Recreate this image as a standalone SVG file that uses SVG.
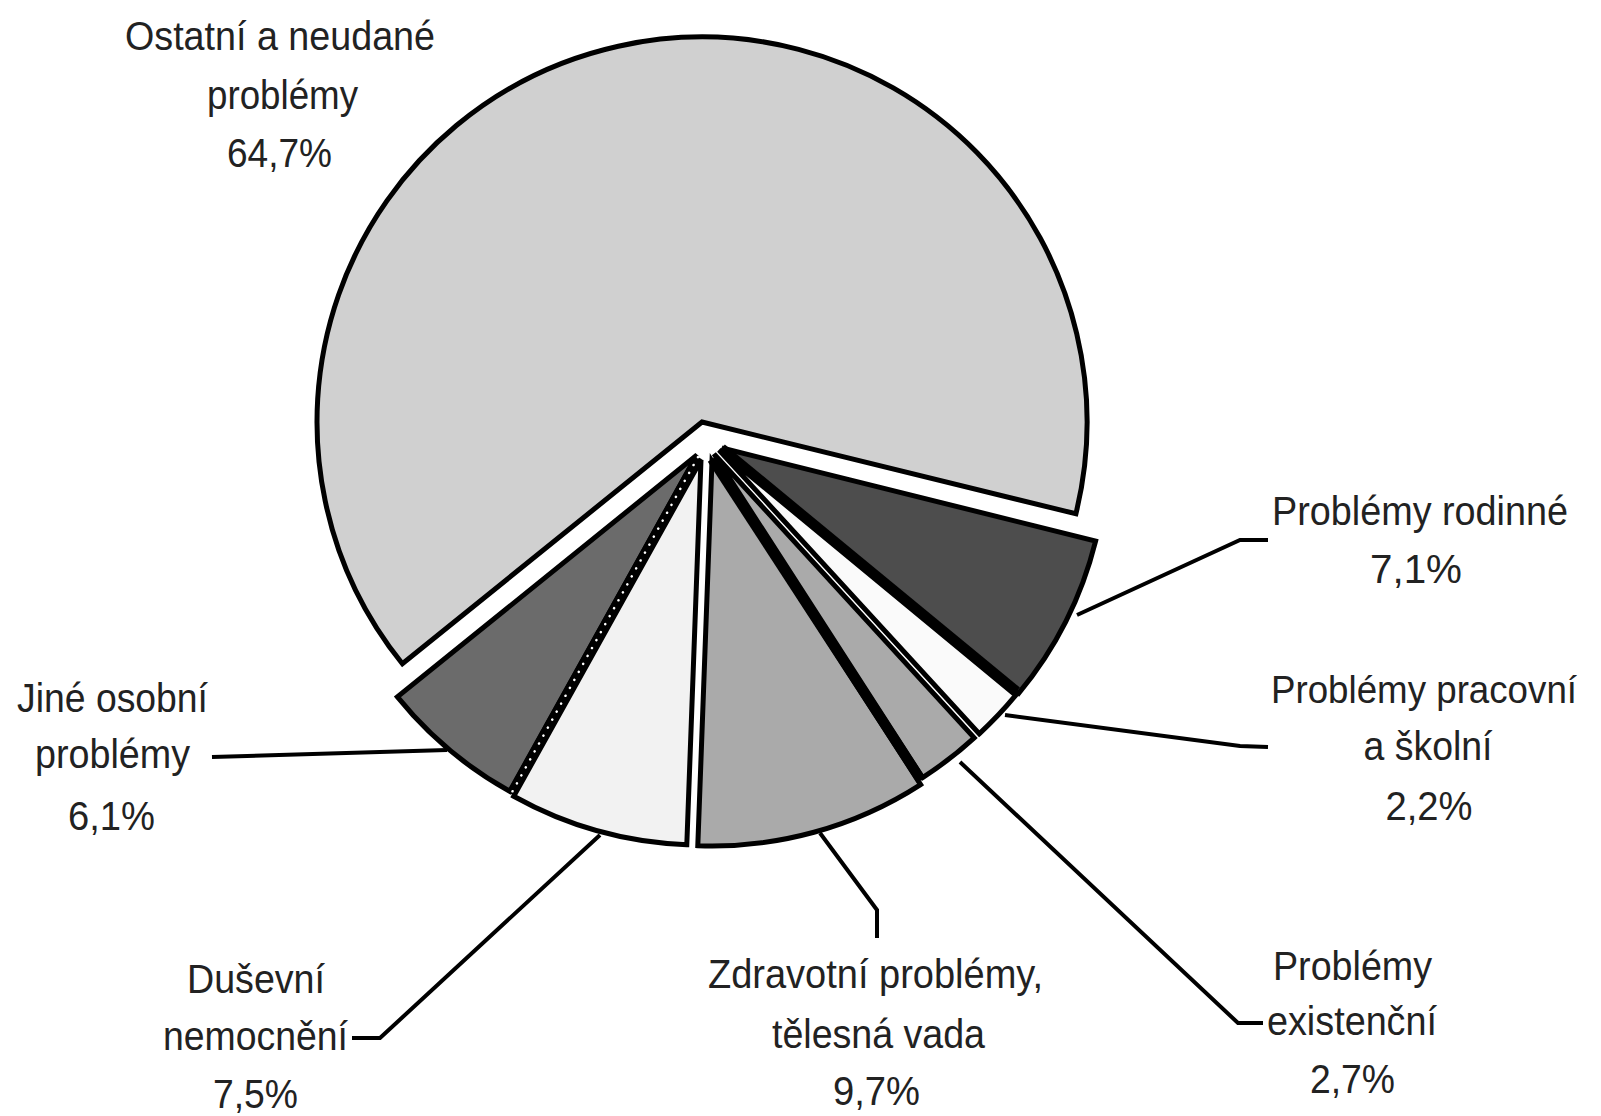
<svg xmlns="http://www.w3.org/2000/svg" width="1601" height="1116" viewBox="0 0 1601 1116">
<style>
.sl{stroke:#000;stroke-width:5;stroke-linejoin:miter}
.ld{fill:none;stroke:#000;stroke-width:4;stroke-linejoin:miter}
.tx{font-family:"Liberation Sans",Arial,sans-serif;font-size:40px;fill:#222;text-anchor:middle}
</style>
<rect width="1601" height="1116" fill="#fff"/>
<g id="slice-ostatni"><path class="sl" fill="#d0d0d0" d="M702,422 L1075.9,513.8 A385,385 0 1,0 402.4,663.8 Z"/></g>
<g id="slice-rodinne"><path class="sl" fill="#4d4d4d" d="M722,448 L1095.6,541.1 A385,385 0 0,1 1018.8,693.2 Z"/></g>
<g id="slice-pracovni"><path class="sl" fill="#fafafa" d="M719,450 L1015.8,695.2 A385,385 0 0,1 979.2,733.8 Z"/></g>
<g id="slice-existencni"><path class="sl" fill="#aaaaaa" d="M714,454 L974.2,737.8 A385,385 0 0,1 922.6,777.6 Z"/></g>
<g id="slice-zdravotni"><path class="sl" fill="#aaaaaa" d="M712,461 L920.6,784.6 A385,385 0 0,1 697.8,845.7 Z"/></g>
<g id="slice-dusevni"><path class="sl" fill="#f2f2f2" d="M701,460 L686.8,844.7 A385,385 0 0,1 513.7,796.3 Z"/></g>
<g id="slice-jine"><path class="sl" fill="#6b6b6b" d="M697,455 L509.7,791.3 A385,385 0 0,1 397.4,696.9 Z"/></g>
<g id="separators">
<path d="M722,448 L1017,691" stroke="#000" stroke-width="9"/>
<path d="M712,459 L921,780" stroke="#000" stroke-width="10"/>
<path d="M698,457 L511,794" stroke="#000" stroke-width="9"/>
<path d="M698,457 L511,794" stroke="#fff" stroke-width="2.5" stroke-linecap="round" stroke-dasharray="0.1 9"/>
</g>
<g id="connectors">
<path class="ld" d="M1077,615 L1240,540 L1268,540"/>
<path class="ld" d="M1005,715 L1240,746 L1268,747"/>
<path class="ld" d="M960,762 L1238,1023 L1263,1023"/>
<path class="ld" d="M820,833 L877,910 L877,938"/>
<path class="ld" d="M600,835 L380,1038 L352,1038"/>
<path class="ld" d="M447,750 L212,757"/>
</g>
<g id="label-ostatni" class="tx">
<text x="280" y="50" textLength="310" lengthAdjust="spacingAndGlyphs">Ostatní a neudané</text>
<text x="282.5" y="109" textLength="151" lengthAdjust="spacingAndGlyphs">problémy</text>
<text x="279.5" y="167" textLength="105" lengthAdjust="spacingAndGlyphs">64,7%</text>
</g>
<g id="label-rodinne" class="tx">
<text x="1420" y="525" textLength="296" lengthAdjust="spacingAndGlyphs">Problémy rodinné</text>
<text x="1416" y="583" textLength="92" lengthAdjust="spacingAndGlyphs">7,1%</text>
</g>
<g id="label-pracovni" class="tx">
<text x="1424" y="703" font-size="38" textLength="306" lengthAdjust="spacingAndGlyphs">Problémy pracovní</text>
<text x="1428" y="760" textLength="129" lengthAdjust="spacingAndGlyphs">a školní</text>
<text x="1429" y="820" textLength="87" lengthAdjust="spacingAndGlyphs">2,2%</text>
</g>
<g id="label-existencni" class="tx">
<text x="1352.5" y="980" textLength="159" lengthAdjust="spacingAndGlyphs">Problémy</text>
<text x="1352" y="1035" textLength="170" lengthAdjust="spacingAndGlyphs">existenční</text>
<text x="1352.5" y="1093" textLength="85" lengthAdjust="spacingAndGlyphs">2,7%</text>
</g>
<g id="label-zdravotni" class="tx">
<text x="875.5" y="988" textLength="335" lengthAdjust="spacingAndGlyphs">Zdravotní problémy,</text>
<text x="878.5" y="1048" textLength="213" lengthAdjust="spacingAndGlyphs">tělesná vada</text>
<text x="876.5" y="1105" textLength="87" lengthAdjust="spacingAndGlyphs">9,7%</text>
</g>
<g id="label-dusevni" class="tx">
<text x="256" y="993" textLength="138" lengthAdjust="spacingAndGlyphs">Duševní</text>
<text x="255.5" y="1050" textLength="185" lengthAdjust="spacingAndGlyphs">nemocnění</text>
<text x="255.5" y="1108" textLength="85" lengthAdjust="spacingAndGlyphs">7,5%</text>
</g>
<g id="label-jine" class="tx">
<text x="112.5" y="712" textLength="191" lengthAdjust="spacingAndGlyphs">Jiné osobní</text>
<text x="112.5" y="768" textLength="155" lengthAdjust="spacingAndGlyphs">problémy</text>
<text x="111.5" y="830" textLength="87" lengthAdjust="spacingAndGlyphs">6,1%</text>
</g>
</svg>
